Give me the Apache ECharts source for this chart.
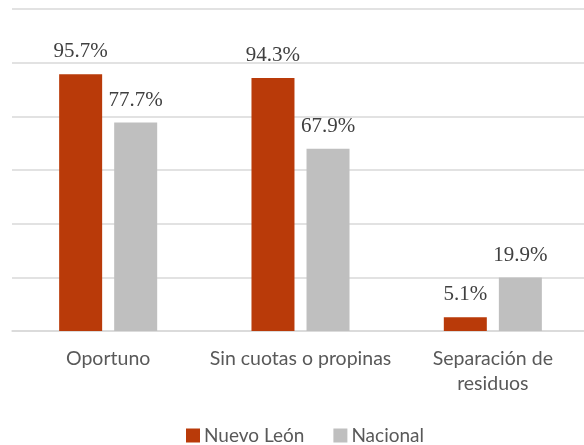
<!DOCTYPE html>
<html>
<head>
<meta charset="utf-8">
<script src="https://cdn.jsdelivr.net/npm/echarts@6/dist/echarts.min.js"></script>
<style>
  html, body { margin: 0; padding: 0; background: #fff; }
  #chart { width: 584px; height: 445px; }
</style>
</head>
<body>
<div id="chart"></div>
<script>
var categories = ['Oportuno', 'Sin cuotas o propinas', 'Separación de\nresiduos'];
var nuevoLeon = [95.7, 94.3, 5.1];
var nacional = [77.7, 67.9, 19.9];
var seriesNames = ['Nuevo León', 'Nacional'];

var myChart = echarts.init(document.getElementById('chart'));

// etiqueta de porcentaje encima de cada barra
var pctLabel = {
    show: true,
    position: 'top',
    distance: 12,
    fontFamily: 'Liberation Serif',
    fontSize: 21,
    lineHeight: 21,
    color: '#404040',
    formatter: function (p) { return p.value.toFixed(1) + '%'; }
};

var option = {
    animation: false,
    grid: { left: 12, width: 577, top: 9, bottom: 114, containLabel: false, outerBoundsMode: 'none' },
    legend: {
        top: 426,
        left: 186,
        padding: 0,
        itemWidth: 14,
        itemHeight: 14,
        itemGap: 29,
        icon: 'rect',
        textStyle: { fontFamily: 'Lato', fontSize: 19, color: '#595959', padding: [0, 0, 0, -1] },
        data: seriesNames
    },
    xAxis: {
        type: 'category',
        data: categories,
        axisLine: { lineStyle: { color: '#d9d9d9', width: 1.5 } },
        axisTick: { show: false },
        axisLabel: {
            interval: 0,
            fontFamily: 'Lato',
            fontSize: 19.5,
            color: '#595959',
            lineHeight: 25,
            margin: 15
        }
    },
    yAxis: {
        type: 'value',
        min: 0,
        max: 120,
        interval: 20,
        axisLabel: { show: false },
        axisLine: { show: false },
        axisTick: { show: false },
        splitLine: { lineStyle: { color: '#d9d9d9', width: 1.5 } }
    },
    series: [
        {
            name: seriesNames[0],
            type: 'bar',
            data: nuevoLeon,
            barWidth: 43,
            barGap: '28%',
            itemStyle: { color: '#b93a09' },
            label: pctLabel
        },
        {
            name: seriesNames[1],
            type: 'bar',
            data: nacional,
            barWidth: 43,
            itemStyle: { color: '#bfbfbf' },
            label: pctLabel
        }
    ]
};
myChart.setOption(option);
</script>
</body>
</html>
